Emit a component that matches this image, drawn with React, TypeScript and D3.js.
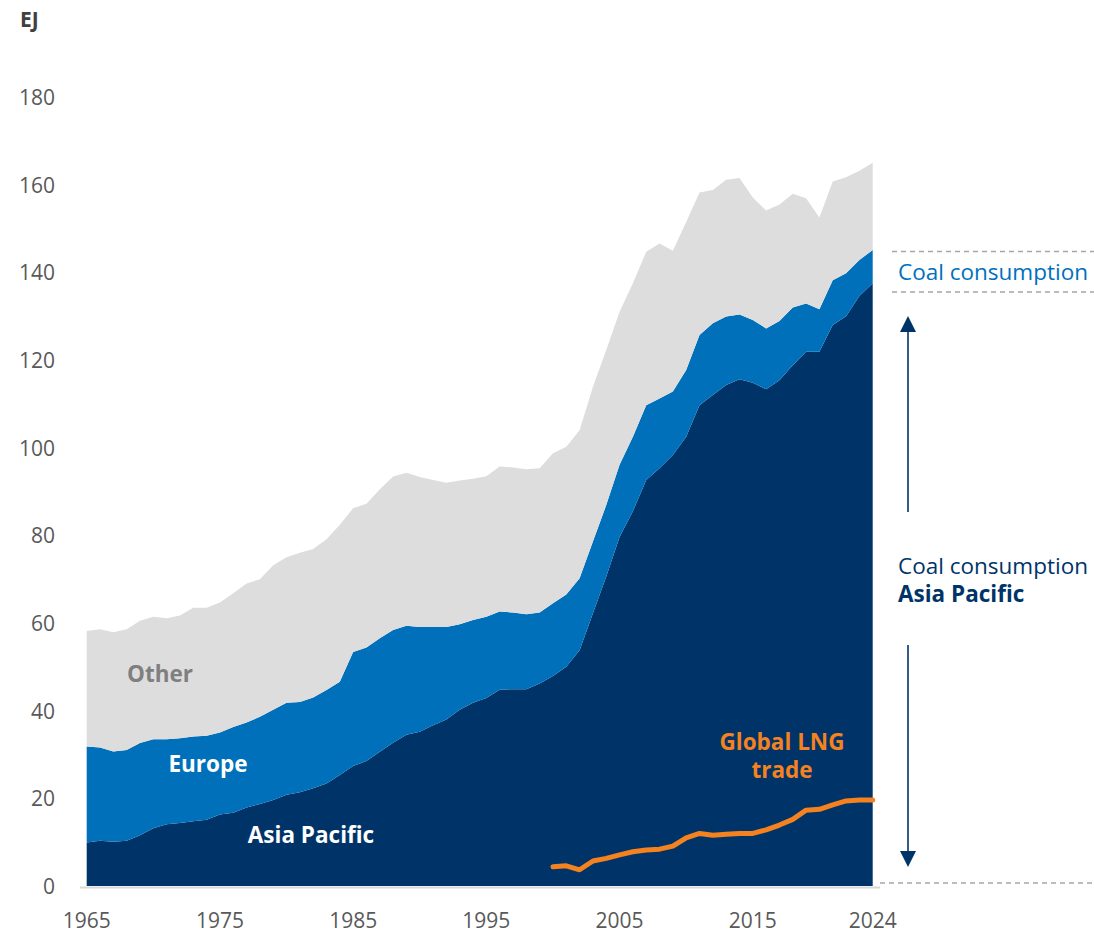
import React from "react";
import * as d3 from "d3";

const years: number[] = d3.range(1965, 2025);

const asiaPacific: number[] = [
  9.9, 10.3, 10.1, 10.3, 11.6, 13.2, 14.1, 14.4, 14.8, 15.1,
  16.3, 16.7, 17.9, 18.7, 19.6, 20.8, 21.4, 22.3, 23.4, 25.3,
  27.4, 28.5, 30.6, 32.7, 34.5, 35.2, 36.7, 38.0, 40.2, 41.8,
  42.9, 44.8, 44.9, 44.9, 46.2, 47.9, 50.0, 53.8, 62.2, 70.6,
  79.6, 85.5, 92.6, 95.3, 98.3, 102.5, 109.7, 112.0, 114.3, 115.6,
  114.8, 113.3, 115.4, 118.8, 121.9, 121.9, 128.0, 130.0, 134.6, 137.5,
];

const europe: number[] = [
  21.9, 21.3, 20.6, 20.7, 21.0, 20.3, 19.4, 19.3, 19.3, 19.2,
  18.7, 19.6, 19.4, 19.9, 20.6, 21.0, 20.6, 20.7, 21.3, 21.3,
  26.0, 25.9, 25.9, 25.7, 24.9, 23.9, 22.4, 21.1, 19.5, 18.9,
  18.5, 17.8, 17.5, 17.1, 16.2, 16.6, 16.5, 16.4, 16.4, 16.3,
  16.5, 17.0, 17.1, 15.9, 14.5, 15.2, 16.0, 16.4, 15.6, 14.8,
  14.3, 13.9, 13.5, 13.2, 11.0, 9.7, 10.2, 9.8, 8.2, 7.6,
];

const other: number[] = [
  26.4, 27.0, 27.2, 27.6, 27.9, 27.9, 27.6, 28.0, 29.4, 29.2,
  29.7, 30.5, 31.7, 31.4, 33.0, 33.2, 34.0, 33.9, 34.4, 35.8,
  32.8, 32.8, 34.0, 35.0, 34.9, 34.2, 33.5, 32.9, 32.8, 32.2,
  32.1, 33.1, 33.1, 33.1, 32.9, 34.2, 33.7, 33.8, 35.3, 35.4,
  34.9, 35.0, 35.0, 35.4, 32.1, 33.8, 32.5, 30.4, 31.2, 31.1,
  28.0, 26.9, 26.6, 25.9, 24.0, 20.9, 22.5, 21.9, 20.4, 19.9,
];

const lngYears: number[] = d3.range(2000, 2025);
const lngTrade: number[] = [
  4.4, 4.6, 3.7, 5.7, 6.3, 7.1, 7.8, 8.2, 8.4, 9.1,
  11.0, 12.0, 11.6, 11.8, 12.0, 12.0, 12.8, 13.9, 15.2, 17.3,
  17.5, 18.5, 19.4, 19.6, 19.6,
];

const yTicks: number[] = [0, 20, 40, 60, 80, 100, 120, 140, 160, 180];
const xTicks: number[] = [1965, 1975, 1985, 1995, 2005, 2015, 2024];

const keys = ["asia", "europe", "other"];
const colors: Record<string, string> = {
  asia: "#003468",
  europe: "#0070BB",
  other: "#DDDDDD",
};

const FONT = "'Open Sans', 'Noto Sans', sans-serif";
const NAVY = "#003468";

export default function App() {
  const W = 1094;
  const H = 933;
  const x = d3.scaleLinear().domain([1965, 2024]).range([86.7, 872.7]);
  const y = d3.scaleLinear().domain([0, 180]).range([886, 97]);

  const table = years.map((yr, i) => ({
    year: yr,
    asia: asiaPacific[i],
    europe: europe[i],
    other: other[i],
  }));
  const stacked = d3.stack<any>().keys(keys)(table);
  const area = d3
    .area<any>()
    .x((d) => x(d.data.year))
    .y0((d) => y(d[0]))
    .y1((d) => y(d[1]));

  const lngLine = d3
    .line<number>()
    .x((_, i) => x(lngYears[i]))
    .y((d) => y(d));

  const lastIdx = years.length - 1;
  const coalTop = y(asiaPacific[lastIdx] + europe[lastIdx]);
  const arrowX = 908;

  return (
    <svg
      width={W}
      height={H}
      style={{ position: "absolute", left: 0, top: 0, background: "#fff" }}
      fontFamily={FONT}
    >
      <text x={20} y={27} fontSize={21} fontWeight={700} fill="#404040">
        EJ
      </text>

      {yTicks.map((t) => (
        <text key={t} x={55} y={y(t) + 8} fontSize={21} fill="#595959" textAnchor="end">
          {t}
        </text>
      ))}

      {stacked.map((s) => (
        <path key={s.key} d={area(s) || ""} fill={colors[s.key]} />
      ))}

      <line x1={80} x2={880} y1={887.5} y2={887.5} stroke="#D9D9D9" strokeWidth={2} />

      {xTicks.map((t) => (
        <text key={t} x={x(t)} y={927.5} fontSize={21} fill="#595959" textAnchor="middle">
          {t}
        </text>
      ))}

      <path
        d={lngLine(lngTrade) || ""}
        fill="none"
        stroke="#F5821F"
        strokeWidth={5}
        strokeLinecap="round"
        strokeLinejoin="round"
      />

      <text x={160} y={682} fontSize={22.5} fontWeight={700} fill="#7F7F7F" textAnchor="middle">
        Other
      </text>
      <text x={208} y={772} fontSize={22.5} fontWeight={700} fill="#fff" textAnchor="middle">
        Europe
      </text>
      <text x={311} y={843} fontSize={22.5} fontWeight={700} fill="#fff" textAnchor="middle">
        Asia Pacific
      </text>
      <text x={782} y={750} fontSize={22.5} fontWeight={700} fill="#F5821F" textAnchor="middle">
        Global LNG
      </text>
      <text x={782} y={778} fontSize={22.5} fontWeight={700} fill="#F5821F" textAnchor="middle">
        trade
      </text>

      {/* Right annotations */}
      <line x1={892} x2={1094} y1={coalTop + 1.5} y2={coalTop + 1.5} stroke="#A6A6A6" strokeWidth={1.5} strokeDasharray="5,4" />
      <line x1={892} x2={1094} y1={292} y2={292} stroke="#A6A6A6" strokeWidth={1.5} strokeDasharray="5,4" />
      <line x1={880} x2={1094} y1={883} y2={883} stroke="#A6A6A6" strokeWidth={1.5} strokeDasharray="5,4" />
      <text x={898} y={280} fontSize={22.5} fill="#0070C0">
        Coal consumption
      </text>

      <line x1={arrowX} x2={arrowX} y1={330} y2={512} stroke={NAVY} strokeWidth={1.6} />
      <path d={`M${arrowX},316 L${arrowX - 8},332 L${arrowX + 8},332 Z`} fill={NAVY} />
      <line x1={arrowX} x2={arrowX} y1={645} y2={853} stroke={NAVY} strokeWidth={1.6} />
      <path d={`M${arrowX},867 L${arrowX - 8},851 L${arrowX + 8},851 Z`} fill={NAVY} />

      <text x={898} y={574} fontSize={22.5} fill={NAVY}>
        Coal consumption
      </text>
      <text x={898} y={602} fontSize={22.5} fontWeight={700} fill={NAVY}>
        Asia Pacific
      </text>
    </svg>
  );
}
